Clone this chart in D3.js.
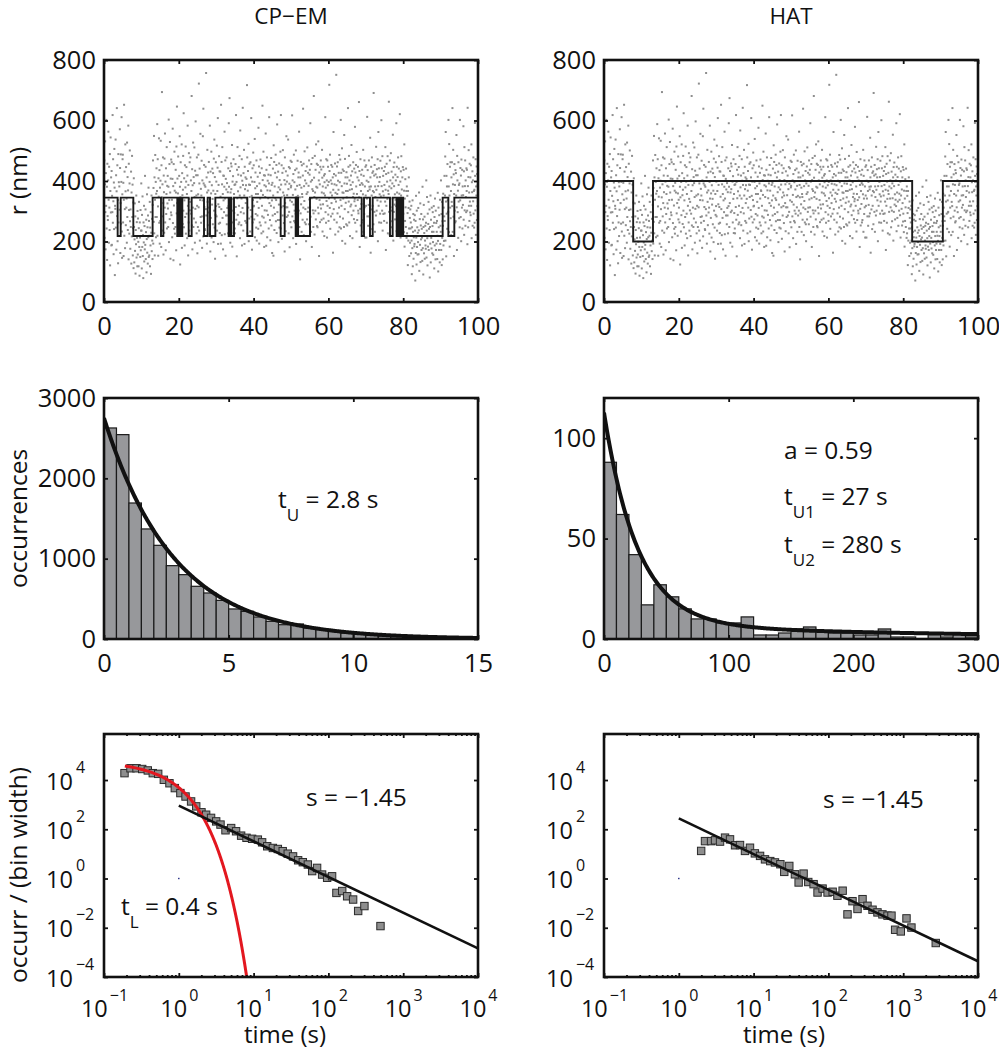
<!DOCTYPE html>
<html><head><meta charset="utf-8">
<script src="https://cdn.jsdelivr.net/npm/d3@7"></script>
<style>
body{margin:0;background:#fff}
svg{display:block;font-family:"Open Sans",sans-serif}
</style></head><body>
<svg id="c" width="999" height="1050"></svg>
<script>
// ---------------- DATA ----------------
const panelTitles = ["CP\u2212EM", "HAT"];

// r (nm) trace, uniformly sampled over 0–100 s (15 samples per second)
const rSeries = [
355,468,212,389,531,297,174,426,318,602,243,381,139,457,284,
271,402,563,338,196,447,312,238,489,121,367,544,296,412,187,
433,189,351,297,618,262,472,333,158,395,241,506,378,89,318,
308,537,246,419,173,366,641,284,452,201,337,128,489,263,396,
218,382,305,571,443,162,327,488,259,397,611,233,146,356,472,
487,263,394,152,338,652,219,431,307,178,521,366,254,446,312,
342,196,527,281,413,238,369,583,141,457,304,226,392,501,267,
176,306,248,431,127,362,217,483,281,388,154,244,329,112,409,
248,131,207,326,169,283,94,238,191,352,147,264,212,118,301,
157,276,199,118,244,331,182,87,263,213,149,304,171,236,392,
236,111,288,182,349,152,221,79,263,197,318,134,251,174,417,
189,306,142,231,272,98,208,356,163,247,127,286,214,378,149,
268,154,219,331,118,246,187,297,93,229,352,168,275,203,142,
321,468,193,377,265,549,227,412,154,338,486,281,397,214,358,
442,281,367,588,219,472,316,153,409,348,541,262,436,193,378,
268,401,533,307,182,452,346,694,236,389,283,478,327,157,418,
363,229,474,312,557,263,398,171,442,291,357,512,243,384,326,
417,309,248,381,603,198,337,456,274,529,362,143,408,296,471,
287,462,338,214,407,573,261,383,138,456,319,242,497,368,226,
394,248,437,362,171,514,293,646,327,408,219,359,481,273,338,
312,417,263,548,381,124,346,462,233,397,287,521,179,426,353,
258,371,483,302,624,247,409,336,187,452,281,379,514,226,398,
446,292,357,211,418,583,318,154,387,263,492,341,236,462,303,
331,478,218,402,292,367,681,253,439,174,386,312,527,248,413,
276,393,511,347,196,434,308,597,263,419,352,227,478,318,161,
419,248,356,487,313,722,236,392,441,203,337,556,281,374,262,
352,467,283,179,402,336,548,217,639,392,268,453,314,386,241,
238,381,447,307,757,286,412,193,362,503,331,254,428,369,296,
463,312,226,397,583,342,167,431,278,359,497,213,386,322,441,
341,257,426,368,198,474,302,537,246,413,143,357,288,462,317,
398,283,517,236,367,444,608,192,323,387,259,482,314,432,228,
262,431,348,193,652,307,463,221,389,512,278,357,174,418,336,
417,297,381,563,224,342,468,153,407,286,372,478,257,393,311,
286,363,227,442,317,591,381,248,674,327,433,196,362,297,458,
373,448,302,519,183,398,263,416,341,472,228,357,294,387,243,
227,389,456,314,618,272,397,151,437,343,512,288,366,421,257,
446,318,263,483,352,211,567,379,297,418,254,342,472,187,401,
311,642,387,236,426,293,503,352,192,447,373,268,412,327,386,
262,407,341,717,478,227,368,433,312,523,201,388,276,457,347,
387,233,462,304,412,608,282,351,173,398,442,263,337,494,316,
452,318,273,397,539,214,376,428,291,357,246,468,203,383,331,
286,414,357,242,576,311,448,193,392,263,427,342,471,253,369,
367,227,442,318,283,649,403,354,233,497,279,419,182,386,303,
418,347,263,557,382,186,437,302,478,214,369,401,288,343,421,
243,392,611,327,453,271,368,204,419,318,476,253,387,336,162,
394,286,441,352,153,518,312,463,238,382,291,427,343,487,267,
337,453,228,412,587,297,363,271,431,198,379,322,458,246,403,
271,372,497,243,618,388,313,452,209,346,427,286,502,362,317,
442,261,352,403,167,478,327,389,234,432,313,548,281,398,353,
313,418,286,537,373,227,446,298,391,181,442,336,264,467,379,
384,247,463,331,617,283,402,354,211,423,322,487,268,396,302,
263,436,372,292,501,192,347,441,313,384,232,467,351,286,412,
428,302,563,248,387,346,141,412,293,463,323,378,232,452,357,
347,272,418,639,312,457,221,383,334,498,263,402,307,433,257,
201,392,357,448,273,511,363,298,427,312,384,257,468,339,421,
437,313,591,282,398,232,456,343,182,403,373,476,303,367,248,
293,681,411,347,223,483,362,302,437,273,521,381,341,457,251,
378,247,453,312,531,293,402,152,428,337,389,264,447,322,468,
309,438,272,362,503,411,233,382,323,447,276,359,418,218,396,
423,352,611,297,378,262,472,334,402,213,468,318,386,447,289,
268,397,343,718,433,311,487,242,362,402,283,453,327,391,352,
447,292,412,163,371,562,307,423,272,389,341,458,223,361,418,
332,751,386,263,448,357,293,462,401,233,371,427,312,486,247,
396,282,471,337,602,243,427,318,383,508,202,362,438,276,342,
361,433,248,552,392,307,473,193,412,328,367,257,429,346,391,
253,412,367,641,297,447,332,483,263,402,371,218,452,316,387,
418,322,519,287,373,432,211,396,347,462,302,358,274,441,333,
341,579,262,428,318,453,382,233,496,357,271,412,337,447,302,
293,402,661,346,433,182,387,308,472,253,367,421,324,393,263,
437,271,388,356,503,232,417,342,291,468,313,382,213,447,352,
318,452,213,401,342,612,283,436,367,252,397,321,468,283,381,
372,293,543,412,163,382,447,306,352,478,241,427,318,367,432,
257,691,363,418,298,453,232,382,347,422,286,513,371,302,439,
412,336,472,201,383,562,318,442,263,397,356,413,292,467,332,
349,262,601,383,442,302,482,236,366,417,291,352,433,268,387,
293,447,332,512,371,172,423,318,457,262,398,341,482,227,368,
427,357,662,298,382,223,468,342,402,313,492,247,376,431,302,
267,392,343,553,412,203,446,298,383,461,322,356,273,421,338,
402,317,591,234,447,362,278,413,332,478,252,387,441,302,358,
338,621,287,398,213,432,352,482,308,372,253,412,327,446,266,
292,437,231,368,521,183,342,268,406,313,248,441,367,212,382,
227,351,294,122,367,203,311,412,243,152,332,278,196,306,243,
263,161,318,203,92,247,178,336,118,232,291,143,214,272,184,
192,287,236,71,268,162,351,213,124,302,182,247,157,229,198,
311,158,237,362,103,218,274,189,326,132,253,207,291,172,242,
213,136,381,178,273,91,248,321,161,228,282,143,203,252,187,
176,262,402,147,236,347,211,121,292,183,258,331,172,242,218,
306,81,248,193,352,131,272,212,177,312,232,161,251,297,198,
156,232,317,262,111,281,187,342,218,141,302,172,261,193,232,
268,142,219,361,202,101,312,247,172,287,218,131,338,192,252,
232,402,172,291,122,331,212,267,141,252,358,187,312,202,283,
417,268,352,481,203,562,332,151,417,292,382,242,456,336,296,
298,602,382,231,522,352,183,447,312,462,277,367,221,412,331,
462,317,641,232,389,503,282,422,152,357,456,302,387,263,436,
267,426,352,552,313,172,483,402,297,368,212,462,332,387,277,
392,247,602,336,443,281,418,201,471,352,312,437,243,382,321,
353,581,272,432,222,512,303,383,468,252,402,347,297,442,367,
437,302,191,642,383,247,413,502,318,362,268,457,332,296,412,
287,452,318,521,211,396,363,432,252,402,333,478,292,367,246,
371,262,592,417,303,472,222,382,352,448,271,423,317,386,333
];
const traceDuration = 100; // s

// step fits: segment start times (s) and levels (nm)
const cpemStepTimes = [0,3.65,4.46,7.84,13.0,15.24,15.87,19.6,19.8,19.95,20.15,20.3,20.5,20.65,20.94,22.64,23.44,26.74,27.72,28.34,29.77,33.33,33.55,33.7,33.9,34.05,34.76,38.32,39.66,47.24,48.31,51.25,51.4,51.55,51.75,51.9,55.08,68.9,69.52,71.12,71.84,76.47,77.18,78.25,78.7,79.1,79.6,80.0,90.55,92.07,93.67];
const cpemStepLevels = [345,218,345,218,345,218,345,218,345,218,345,218,345,218,345,218,345,218,345,218,345,218,345,218,345,218,345,218,345,218,345,218,345,218,345,218,345,218,345,218,345,218,345,218,345,218,345,218,345,218,345];
const hatStepTimes = [0,7.8,13.1,82.4,90.6];
const hatStepLevels = [400,200,400,200,400];

// dwell-time histograms
const cpemBinWidth = 0.5;
const cpemCounts = [2627,2544,1693,1370,1166,913,801,656,573,481,374,344,274,220,178,187,137,125,95,75,60,48,38,30,24,18,14,10,8,6];
const cpemTauU = 2.8;          // s
const cpemFitAmp = 2750;       // counts at t = 0
const hatBinWidth = 10;
const hatCounts = [88,62,42,17,27,21,15,10,10,8,8,11,2,2,3,5,6,4,3,3,2,2,5,1,1,0,3,1,3,1];
const hatA = 0.59, hatTauU1 = 27, hatTauU2 = 280; // s
const hatFitN = 4834;          // events x bin width

// log-binned dwell distributions
const cpemLogT = [0.188,0.226,0.272,0.324,0.385,0.449,0.530,0.631,0.750,0.885,1.05,1.23,1.46,1.71,2.01,2.32,2.70,3.16,3.61,4.21,5.01,5.83,6.81,8.04,9.55,11.4,13.0,15.2,18.1,21.1,24.5,28.6,33.7,39.4,45.5,53.1,60.7,70.6,82.4,96.2,112,128,153,178,214,250,303,497];
const cpemLogOcc = [1.9e4,3.0e4,3.0e4,2.8e4,2.45e4,1.9e4,1.78e4,1.02e4,7.4e3,4.7e3,2.95e3,2.14e3,1.35e3,850,490,390,290,209,155,91,112,83,55,45,41,38,29.5,20.4,17.4,15.8,12.9,10.2,7.9,5.5,4.6,3.7,2.0,2.7,1.45,1.07,1.23,0.26,0.31,0.19,0.14,0.048,0.076,0.0117];
const hatLogT = [1.99,2.24,2.70,3.05,3.56,4.15,4.84,5.65,6.58,7.67,8.95,10.4,12.2,14.2,16.7,19.3,22.8,25.7,30.0,35.7,40.0,46.6,53.8,63.4,71.6,83.6,97.5,114,132,155,180,210,245,286,333,389,453,528,617,697,780,929,1107,1288,2723];
const hatLogOcc = [13.2,33,33,35.5,31.6,45.7,38.9,22.4,22.9,13.2,17.8,10.5,8.3,6.0,5.1,4.5,3.8,1.86,3.24,1.48,0.69,1.58,0.72,0.59,0.27,0.39,0.27,0.29,0.20,0.32,0.035,0.12,0.058,0.145,0.078,0.054,0.042,0.035,0.031,0.031,0.0083,0.0071,0.024,0.0102,0.0024];
const slopeS = -1.45;
const cpemPowAmp = 912, hatPowAmp = 275;   // value at t = 1 s
const powRange = [1, 1e4];
const tauL = 0.4, cpemLogExpAmp = 6.0e4;   // red fit

// axis ticks
const rTicksX = [0,20,40,60,80,100];
const rTicksY = [0,200,400,600,800];
const cpemHistTicksX = [0,5,10,15];
const cpemHistTicksY = [0,1000,2000,3000];
const hatHistTicksX = [0,100,200,300];
const hatHistTicksY = [0,50,100];
const logTicksX = [1e-1,1e0,1e1,1e2,1e3,1e4];
const logTicksY = [1e-4,1e-2,1e0,1e2,1e4];

// ---------------- DRAWING ----------------
const svg = d3.select("#c");
const colX = [104, 604], W = 374;
const rowY = [60, 398, 734], rowH = [242, 241, 243];
const TICK = 25.5;
let clipId = 0;

function panel(col, row){
  const g = svg.append("g").attr("transform", `translate(${colX[col]},${rowY[row]})`);
  const id = "clip" + (clipId++);
  g.append("clipPath").attr("id", id).append("rect").attr("width", W).attr("height", rowH[row]);
  const plot = g.append("g").attr("clip-path", `url(#${id})`);
  return {g, plot, h: rowH[row]};
}
function styleAxis(a){
  a.select(".domain").remove();
  a.selectAll(".tick line").attr("stroke", "#111").attr("stroke-width", 1.8);
  a.selectAll(".tick text").attr("font-size", TICK).attr("font-family", '"Open Sans", sans-serif').attr("fill", "#111");
  a.attr("font-size", null).attr("font-family", null);
}
function linearAxes(p, x, y, xt, yt){
  const {g, h} = p;
  styleAxis(g.append("g").attr("transform", `translate(0,${h})`).call(d3.axisBottom(x).tickValues(xt).tickSize(-4).tickPadding(15).tickFormat(d3.format("d"))));
  styleAxis(g.append("g").call(d3.axisTop(x).tickValues(xt).tickSize(-4).tickFormat("")));
  styleAxis(g.append("g").call(d3.axisLeft(y).tickValues(yt).tickSize(-4).tickPadding(8).tickFormat(d3.format("d"))));
  styleAxis(g.append("g").attr("transform", `translate(${W},0)`).call(d3.axisRight(y).tickValues(yt).tickSize(-4).tickFormat("")));
}
function frame(p){
  p.g.append("rect").attr("width", W).attr("height", p.h).attr("fill", "none").attr("stroke", "#111").attr("stroke-width", 2.6);
}
const expStr = e => (e < 0 ? "\u2212" : "") + Math.abs(e);
function logAxes(p, x, y){
  const {g, h} = p;
  const minor = [];
  for (let e = -1; e < 4; e++) for (let k = 2; k <= 9; k++) minor.push(k * Math.pow(10, e));
  const bx = g.append("g").attr("transform", `translate(0,${h})`).call(d3.axisBottom(x).tickValues(logTicksX).tickSize(-4).tickFormat(""));
  styleAxis(bx);
  bx.selectAll(".tick").append("text").attr("text-anchor", "middle").attr("y", 40).attr("fill", "#111")
    .each(function(d){
      const t = d3.select(this), e = Math.round(Math.log10(d));
      t.append("tspan").attr("font-size", 23.5).text("10");
      t.append("tspan").attr("font-size", 16).attr("dy", -16).attr("dx", 2).text(expStr(e));
    });
  styleAxis(g.append("g").attr("transform", `translate(0,${h})`).call(d3.axisBottom(x).tickValues(minor).tickSize(-2).tickFormat("")));
  styleAxis(g.append("g").call(d3.axisTop(x).tickValues(logTicksX).tickSize(-4).tickFormat("")));
  styleAxis(g.append("g").call(d3.axisTop(x).tickValues(minor).tickSize(-2).tickFormat("")));
  const ly = g.append("g").call(d3.axisLeft(y).tickValues(logTicksY).tickSize(-4).tickFormat(""));
  styleAxis(ly);
  ly.selectAll(".tick").append("text").attr("text-anchor", "start").attr("x", -58).attr("y", 9).attr("fill", "#111")
    .each(function(d){
      const t = d3.select(this), e = Math.round(Math.log10(d));
      t.append("tspan").attr("font-size", 23.5).text("10");
      t.append("tspan").attr("font-size", 16).attr("dy", -17).attr("dx", 3).text(expStr(e));
    });
  styleAxis(g.append("g").attr("transform", `translate(${W},0)`).call(d3.axisRight(y).tickValues(logTicksY).tickSize(-4).tickFormat("")));
}
function rich(x, y, segs, size){
  const t = svg.append("text").attr("x", x).attr("y", y).attr("font-size", size).attr("fill", "#111");
  let shift = 0;
  segs.forEach(([s, kind]) => {
    const sp = t.append("tspan").text(s);
    if (kind === "sub") { sp.attr("font-size", 17).attr("dy", 13 - shift); shift = 13; }
    else { sp.attr("dy", -shift); shift = 0; }
  });
}
function label(x, y, s, rot, size){
  const t = svg.append("text").attr("font-size", size || 25).attr("fill", "#111").attr("text-anchor", "middle").text(s);
  if (rot) t.attr("transform", `translate(${x},${y}) rotate(-90)`); else t.attr("x", x).attr("y", y);
}

// titles
panelTitles.forEach((s, i) => label(colX[i] + W / 2, 24, s, false, 22.5));

// ---- row 1: traces ----
const times = rSeries.map((_, i) => (i + 0.5) * traceDuration / rSeries.length);
[[cpemStepTimes, cpemStepLevels], [hatStepTimes, hatStepLevels]].forEach(([st, sl], col) => {
  const p = panel(col, 0);
  const x = d3.scaleLinear().domain([0, 100]).range([0, W]);
  const y = d3.scaleLinear().domain([0, 800]).range([p.h, 0]);
  p.plot.selectAll("rect.pt").data(rSeries).join("rect").attr("class", "pt")
    .attr("x", (d, i) => x(times[i]) - 1).attr("y", d => y(d) - 1)
    .attr("width", 2).attr("height", 2).attr("fill", "#8e8e8e");
  const pts = st.map((t, i) => [t, sl[i]]).concat([[traceDuration, sl[sl.length - 1]]]);
  p.plot.append("path").datum(pts).attr("fill", "none").attr("stroke", "#1a1a1a").attr("stroke-width", 1.9)
    .attr("d", d3.line().x(d => x(d[0])).y(d => y(d[1])).curve(d3.curveStepAfter));
  linearAxes(p, x, y, rTicksX, rTicksY);
  frame(p);
});
label(27, rowY[0] + rowH[0] / 2, "r  (nm)", true, 24.5);

// ---- row 2: histograms ----
function hist(col, counts, bw, xmax, ymax, xt, yt, fit){
  const p = panel(col, 1);
  const x = d3.scaleLinear().domain([0, xmax]).range([0, W]);
  const y = d3.scaleLinear().domain([0, ymax]).range([p.h, 0]);
  p.plot.selectAll("rect.bar").data(counts).join("rect").attr("class", "bar")
    .attr("x", (d, i) => x(i * bw)).attr("width", (d, i) => x((i + 1) * bw) - x(i * bw))
    .attr("y", d => y(d)).attr("height", d => y(0) - y(d))
    .attr("fill", "#97989b").attr("stroke", "#1a1a1a").attr("stroke-width", 1.2);
  const ts = d3.range(0, xmax + xmax / 400, xmax / 400);
  p.plot.append("path").datum(ts).attr("fill", "none").attr("stroke", "#111").attr("stroke-width", 4)
    .attr("d", d3.line().x(t => x(t)).y(t => y(fit(t))));
  linearAxes(p, x, y, xt, yt);
  frame(p);
}
hist(0, cpemCounts, cpemBinWidth, 15, 3000, cpemHistTicksX, cpemHistTicksY, t => cpemFitAmp * Math.exp(-t / cpemTauU));
hist(1, hatCounts, hatBinWidth, 300, 120, hatHistTicksX, hatHistTicksY,
  t => hatFitN * (hatA / hatTauU1 * Math.exp(-t / hatTauU1) + (1 - hatA) / hatTauU2 * Math.exp(-t / hatTauU2)));
label(27, rowY[1] + rowH[1] / 2, "occurrences", true, 24.5);
rich(278, 508, [["t", ""], ["U", "sub"], [" = 2.8 s", ""]], 24.5);
rich(784, 459, [["a = 0.59", ""]], 24.5);
rich(784, 505, [["t", ""], ["U1", "sub"], [" = 27 s", ""]], 24.5);
rich(784, 553, [["t", ""], ["U2", "sub"], [" = 280 s", ""]], 24.5);

// ---- row 3: log-log ----
function loglog(col, T, V, powAmp, red){
  const p = panel(col, 2);
  const x = d3.scaleLog().domain([0.1, 1e4]).range([0, W]);
  const y = d3.scaleLog().domain([1e-4, 7.4e5]).range([p.h, 0]);
  p.plot.selectAll("rect.sq").data(T).join("rect").attr("class", "sq")
    .attr("x", d => x(d) - 3.7).attr("y", (d, i) => y(V[i]) - 3.7).attr("width", 7.4).attr("height", 7.4)
    .attr("fill", "#8e8e8e").attr("stroke", "#2a2a2a").attr("stroke-width", 1);
  if (red) {
    const ts = d3.range(0, 201).map(i => 0.19 + i * (8.3 - 0.19) / 200);
    p.plot.append("path").datum(ts).attr("fill", "none").attr("stroke", "#e3171f").attr("stroke-width", 3)
      .attr("d", d3.line().x(t => x(t)).y(t => y(Math.max(1e-6, cpemLogExpAmp * Math.exp(-t / tauL)))));
  }
  p.plot.append("path").datum(powRange).attr("fill", "none").attr("stroke", "#111").attr("stroke-width", 2.6)
    .attr("d", d3.line().x(t => x(t)).y(t => y(powAmp * Math.pow(t, slopeS))));
  p.plot.append("rect").attr("x", x(1) - 0.7).attr("y", y(1) - 0.7).attr("width", 1.4).attr("height", 1.4).attr("fill", "#1a237e");
  logAxes(p, x, y);
  frame(p);
}
loglog(0, cpemLogT, cpemLogOcc, cpemPowAmp, true);
loglog(1, hatLogT, hatLogOcc, hatPowAmp, false);
label(27, 875, "occurr / (bin width)", true, 24.5);
label(285, 1043, "time (s)", false, 24);
label(784, 1043, "time (s)", false, 24);
rich(306, 806, [["s = \u22121.45", ""]], 24.5);
rich(823, 808, [["s = \u22121.45", ""]], 24.5);
rich(121, 915, [["t", ""], ["L", "sub"], [" = 0.4 s", ""]], 24.5);
</script>
</body></html>
